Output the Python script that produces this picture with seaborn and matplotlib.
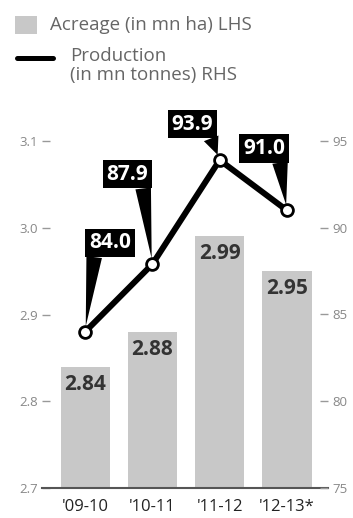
import numpy as np
import matplotlib
matplotlib.use('Agg')
import matplotlib.pyplot as plt
from matplotlib.patches import Rectangle
from matplotlib.lines import Line2D
import seaborn as sns

# data
seasons = ["'09-10", "'10-11", "'11-12", "'12-13*"]
acreage = [2.84, 2.88, 2.99, 2.95]        # mn ha, LHS
production = [84.0, 87.9, 93.9, 91.0]     # mn tonnes, RHS
left_ticks = [2.7, 2.8, 2.9, 3.0, 3.1]
right_ticks = [75, 80, 85, 90, 95]

# callout box offsets (pixels) relative to each point, and where the pointer leaves the box
callout_offsets = [(25, 89), (-25, 90), (-27, 36), (-23, 62)]
callout_relx = [0.15, 0.85, 0.85, 0.85]

sns.set_style('white')
plt.rcParams['font.family'] = ['Open Sans', 'DejaVu Sans']

W, H = 353, 518
fig = plt.figure(figsize=(W / 100, H / 100), dpi=100)

def fx(px):
    return px / W

def fy(py):
    return 1 - py / H

ax = fig.add_axes([fx(42), fy(488), fx(328) - fx(42), fy(141) - fy(488)])

# bars: acreage
sns.barplot(x=seasons, y=acreage, color='#c8c8c8', saturation=1, width=0.73,
            edgecolor='none', ax=ax)
ax.set_xlim(-0.64, 3.61)
ax.set_ylim(2.7, 3.1)
ax.set_yticks(left_ticks)
ax.set_yticklabels([f'{t:.1f}' for t in left_ticks])
ax.set_xlabel('')
ax.set_ylabel('')

for i, v in enumerate(acreage):
    ax.annotate(f'{v:.2f}', (i, v), xytext=(0, -7), textcoords='offset pixels',
                ha='center', va='top', fontsize=15, fontweight='bold', color='#333333')

# line: production on the right axis
ax2 = ax.twinx()
sns.pointplot(x=seasons, y=production, ax=ax2, color='black', markers='o',
              linestyles='-', linewidth=4.3, markersize=8.5,
              markerfacecolor='white', markeredgecolor='black', markeredgewidth=2)
ax2.set_xlim(-0.64, 3.61)
ax2.set_ylim(75, 95)
ax2.set_yticks(right_ticks)
ax2.set_yticklabels([str(t) for t in right_ticks])
ax2.set_xlabel('')
ax2.set_ylabel('')

for i, v in enumerate(production):
    dx, dy = callout_offsets[i]
    ax2.annotate(f'{v:.1f}', (i, v), xytext=(dx, dy), textcoords='offset pixels',
                 ha='center', va='center', fontsize=15, fontweight='bold', color='white',
                 bbox=dict(boxstyle='square,pad=0.18', fc='black', ec='none'),
                 arrowprops=dict(arrowstyle='wedge,tail_width=0.75,shrink_factor=0.5',
                                 fc='black', ec='none', relpos=(callout_relx[i], 0.3),
                                 shrinkA=0, shrinkB=4, connectionstyle='arc3'))

# axes styling
for a in (ax, ax2):
    for s in ('top', 'left', 'right'):
        a.spines[s].set_visible(False)
ax2.spines['bottom'].set_visible(False)
ax.spines['bottom'].set_color('#555555')
ax.spines['bottom'].set_linewidth(1.5)

ax.tick_params(axis='y', direction='in', length=6, width=1, color='#999999',
               labelsize=9.5, labelcolor='#888888', pad=3)
ax2.tick_params(axis='y', direction='in', length=6, width=1, color='#999999',
                labelsize=9.5, labelcolor='#888888', pad=3)
ax.tick_params(axis='x', length=0, labelsize=12, labelcolor='#222222', pad=8)
ax2.tick_params(axis='x', length=0)

# legend drawn by hand at the top
fig.patches.append(Rectangle((fx(15), fy(34)), fx(37) - fx(15), fy(16) - fy(34),
                             transform=fig.transFigure, fc='#c8c8c8', ec='none'))
fig.lines.append(Line2D([fx(17), fx(53)], [fy(57.5), fy(57.5)], lw=3.6, color='black',
                        transform=fig.transFigure))
fig.text(fx(50), fy(25), 'Acreage (in mn ha) LHS', va='center', ha='left',
         fontsize=13.5, color='#666666')
fig.text(fx(70), fy(47), 'Production\n(in mn tonnes) RHS', va='top', ha='left',
         fontsize=13.5, color='#666666', linespacing=1.05)

fig.savefig('out.png', dpi=100)
